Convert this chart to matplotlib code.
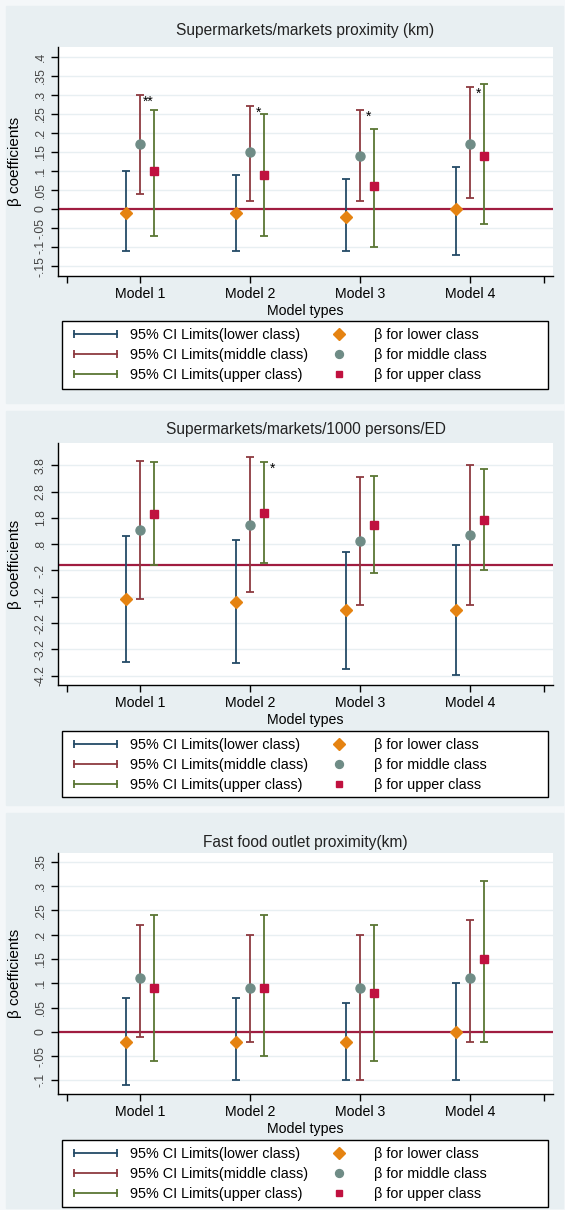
import matplotlib.pyplot as plt
from matplotlib.lines import Line2D
from matplotlib.patches import Rectangle
from matplotlib.legend_handler import HandlerLine2D

plt.rcParams['font.family'] = ['Liberation Sans', 'DejaVu Sans']

# data
models = ["Model 1", "Model 2", "Model 3", "Model 4"]

# panel 1: supermarkets/markets proximity (km)
p1_lower_b = [-0.01, -0.01, -0.02, 0.00]
p1_lower_lo = [-0.11, -0.11, -0.11, -0.12]
p1_lower_hi = [0.10, 0.09, 0.08, 0.11]
p1_middle_b = [0.17, 0.15, 0.14, 0.17]
p1_middle_lo = [0.04, 0.02, 0.02, 0.03]
p1_middle_hi = [0.30, 0.27, 0.26, 0.32]
p1_upper_b = [0.10, 0.09, 0.06, 0.14]
p1_upper_lo = [-0.07, -0.07, -0.10, -0.04]
p1_upper_hi = [0.26, 0.25, 0.21, 0.33]
p1_stars_middle = ["**", "*", "*", "*"]

# panel 2: supermarkets/markets per 1000 persons/ED
p2_lower_b = [-1.29, -1.39, -1.72, -1.70]
p2_lower_lo = [-3.67, -3.72, -3.96, -4.19]
p2_lower_hi = [1.12, 0.97, 0.52, 0.78]
p2_middle_b = [1.35, 1.54, 0.92, 1.16]
p2_middle_lo = [-1.28, -1.03, -1.52, -1.50]
p2_middle_hi = [3.98, 4.10, 3.37, 3.80]
p2_upper_b = [1.95, 1.98, 1.54, 1.73]
p2_upper_lo = [0.00, 0.09, -0.31, -0.20]
p2_upper_hi = [3.93, 3.94, 3.41, 3.66]
p2_stars_upper = ["", "*", "", ""]

# panel 3: fast food outlet proximity (km)
p3_lower_b = [-0.02, -0.02, -0.02, 0.00]
p3_lower_lo = [-0.11, -0.10, -0.10, -0.10]
p3_lower_hi = [0.07, 0.07, 0.06, 0.10]
p3_middle_b = [0.11, 0.09, 0.09, 0.11]
p3_middle_lo = [-0.01, -0.02, -0.10, -0.02]
p3_middle_hi = [0.22, 0.20, 0.20, 0.23]
p3_upper_b = [0.09, 0.09, 0.08, 0.15]
p3_upper_lo = [-0.06, -0.05, -0.06, -0.02]
p3_upper_hi = [0.24, 0.24, 0.22, 0.31]

titles = ["Supermarkets/markets proximity (km)",
          "Supermarkets/markets/1000 persons/ED",
          "Fast food outlet proximity(km)"]
p1_yticks = [-0.15, -0.1, -0.05, 0, 0.05, 0.1, 0.15, 0.2, 0.25, 0.3, 0.35, 0.4]
p2_yticks = [-4.2, -3.2, -2.2, -1.2, -0.2, 0.8, 1.8, 2.8, 3.8]
p3_yticks = [-0.1, -0.05, 0, 0.05, 0.1, 0.15, 0.2, 0.25, 0.3, 0.35]

ci_labels = ["95% CI Limits(lower class)", "95% CI Limits(middle class)",
             "95% CI Limits(upper class)"]
pt_labels = ["\u03b2 for lower class", "\u03b2 for middle class",
             "\u03b2 for upper class"]

# styling
ci_colors = ["#244b67", "#8e3a40", "#5a7634"]
pt_colors = ["#e58311", "#6f8c86", "#c0113f"]
pt_markers = ["D", "o", "s"]
pt_sizes = [6.5, 6.5, 5.5]
offsets = [-0.13, 0.0, 0.13]
BG = "#e8eff2"

panels = [
    dict(b=[p1_lower_b, p1_middle_b, p1_upper_b],
         lo=[p1_lower_lo, p1_middle_lo, p1_upper_lo],
         hi=[p1_lower_hi, p1_middle_hi, p1_upper_hi],
         stars={1: p1_stars_middle}, yticks=p1_yticks, ylim=(-0.176, 0.426),
         box=(58, 47, 553, 276), title_y=30, leg=(62, 321, 548, 389)),
    dict(b=[p2_lower_b, p2_middle_b, p2_upper_b],
         lo=[p2_lower_lo, p2_middle_lo, p2_upper_lo],
         hi=[p2_lower_hi, p2_middle_hi, p2_upper_hi],
         stars={2: p2_stars_upper}, yticks=p2_yticks, ylim=(-4.556, 4.65),
         box=(58, 443, 553, 685), title_y=430, leg=(62, 731, 548, 797)),
    dict(b=[p3_lower_b, p3_middle_b, p3_upper_b],
         lo=[p3_lower_lo, p3_middle_lo, p3_upper_lo],
         hi=[p3_lower_hi, p3_middle_hi, p3_upper_hi],
         stars={}, yticks=p3_yticks, ylim=(-0.128, 0.368),
         box=(58, 853, 553, 1094), title_y=842, leg=(62, 1140, 548, 1207)),
]
panel_spans = [(0, 405), (405, 807), (807, 1210)]

W, H = 565, 1210
fig = plt.figure(figsize=(W / 100, H / 100), dpi=100, facecolor="#f4f7f9")


def fx(px):
    return px / W


def fy(py):
    return 1 - py / H


def stata_fmt(v):
    s = f"{round(v, 4):g}"
    return s.replace("-0.", "-.").replace("0.", ".") if s != "0" else s


for y0, y1 in panel_spans:
    fig.patches.append(Rectangle((fx(6), fy(y1 - 2)), fx(W - 8), (y1 - 2 - y0 - 6) / H,
                                 transform=fig.transFigure, color=BG, zorder=-10))

xpos = list(range(1, len(models) + 1))

for k, p in enumerate(panels):
    x0, ytop, x1, ybot = p["box"]
    ax = fig.add_axes([fx(x0), fy(ybot), fx(x1 - x0), (ybot - ytop) / H])
    ax.set_facecolor("white")
    for side in ["top", "right"]:
        ax.spines[side].set_visible(False)
    for side in ["left", "bottom"]:
        ax.spines[side].set_linewidth(1.0)
        ax.spines[side].set_color("black")

    ax.set_yticks(p["yticks"])
    ax.set_yticklabels([stata_fmt(v) for v in p["yticks"]], rotation=90,
                       va="center", fontsize=8.8, color="#444444")
    ax.set_ylim(*p["ylim"])
    ax.grid(axis="y", color="#e8eff2", lw=1.0, zorder=0)
    ax.set_axisbelow(True)

    ax.set_xticks([0.336] + xpos + [4.67])
    ax.set_xticklabels([""] + models + [""], fontsize=10.2)
    ax.set_xlim(0.255, 4.755)
    ax.tick_params(length=5, width=1, pad=3)

    ax.axhline(0, color="#a01c40", lw=1.6, zorder=1)

    for c in range(3):
        xs = [x + offsets[c] for x in xpos]
        b, lo, hi = p["b"][c], p["lo"][c], p["hi"][c]
        err = [[bi - li for bi, li in zip(b, lo)], [hi_ - bi for bi, hi_ in zip(b, hi)]]
        ax.errorbar(xs, b, yerr=err, fmt="none", ecolor=ci_colors[c],
                    elinewidth=1.3, capsize=3, capthick=1.3, zorder=2)
        ax.plot(xs, b, ls="none", marker=pt_markers[c], ms=pt_sizes[c],
                color=pt_colors[c], zorder=3)
        if c in p["stars"]:
            rng = p["ylim"][1] - p["ylim"][0]
            for xi, hv, s in zip(xs, hi, p["stars"][c]):
                if s:
                    ax.text(xi + 0.075, hv - 0.03 * rng, s, ha="center",
                            va="center", fontsize=10)

    ax.set_ylabel("\u03b2 coefficients", fontsize=11)
    ax.yaxis.set_label_coords(-(58 - 22) / (x1 - x0), 0.5)
    ax.set_xlabel("Model types", fontsize=10.2, va="center")
    ax.xaxis.set_label_coords(0.5, -35 / (ybot - ytop))

    fig.text(fx((x0 + x1) / 2), fy(p["title_y"]), titles[k], ha="center",
             va="center", fontsize=11.2, color="#222222")

    # legend box and entries
    lx0, ly0, lx1, ly1 = p["leg"]
    fig.patches.append(Rectangle((fx(lx0), fy(ly1)), fx(lx1 - lx0), (ly1 - ly0) / H,
                                 transform=fig.transFigure, facecolor="white",
                                 edgecolor="black", lw=1.0, zorder=1))
    ci_handles = [Line2D([], [], color=col, lw=1.3, marker="|", ms=6, mew=1.3)
                  for col in ci_colors]
    pt_handles = [Line2D([], [], ls="none", marker=m, ms=s - 0.8, color=col)
                  for m, s, col in zip(pt_markers, pt_sizes, pt_colors)]
    hmap = {h: HandlerLine2D(numpoints=1) for h in pt_handles}
    leg = fig.legend(ci_handles + pt_handles, ci_labels + pt_labels, ncol=2,
                     loc="upper left", bbox_to_anchor=(fx(lx0), fy(ly0)),
                     bbox_transform=fig.transFigure, frameon=False,
                     fontsize=10.4, numpoints=2, handlelength=3.6,
                     handletextpad=0.6, columnspacing=0.35, labelspacing=0.42,
                     borderpad=0.5, borderaxespad=0, handler_map=hmap)
    leg.set_zorder(2)

fig.savefig("out.png", dpi=100, facecolor=fig.get_facecolor())
